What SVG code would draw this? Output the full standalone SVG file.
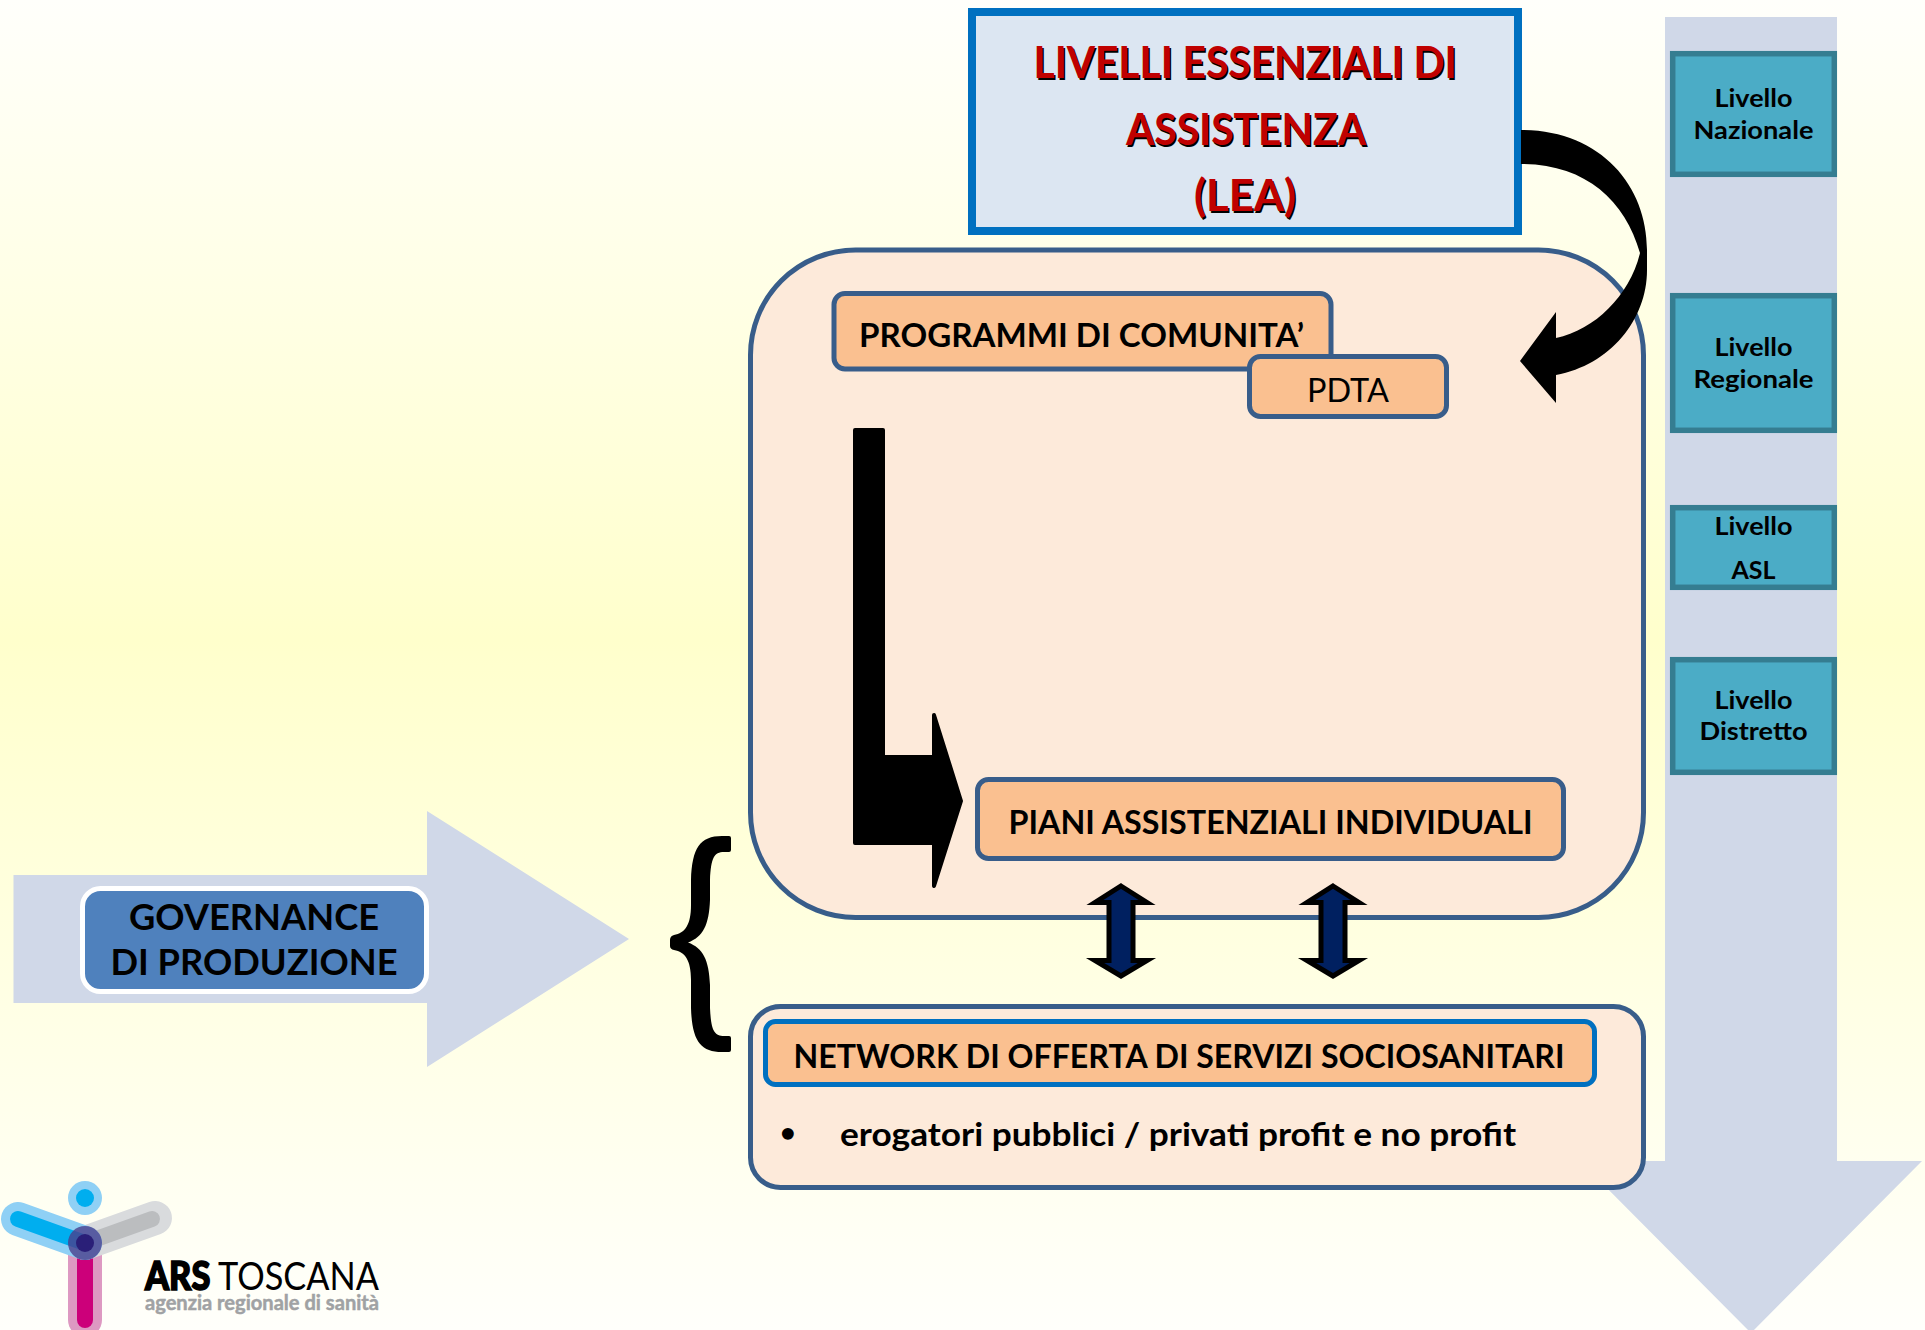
<svg xmlns="http://www.w3.org/2000/svg" width="1925" height="1330" viewBox="0 0 1925 1330">
<defs>
<linearGradient id="bg" x1="0" y1="0" x2="0" y2="1"><stop offset="0" stop-color="#fffffb"/><stop offset="0.48" stop-color="#ffffcc"/><stop offset="1" stop-color="#fffffb"/></linearGradient>
</defs>
<style>
text{font-family:"Lato","Carlito","Liberation Sans",sans-serif;fill:#000}
.b{font-weight:700}
.m{text-anchor:middle}
.lea{font-size:44px;font-weight:700;fill:#c00000;text-anchor:middle}
.leas{font-size:44px;font-weight:700;fill:#000;text-anchor:middle}
.lab{font-size:33px;font-weight:700}
.lvl{fill:#4bacc6;stroke:#357d91;stroke-width:5.5}
.lvt{font-size:25px;font-weight:700;text-anchor:middle}
.or{fill:#fac090;stroke:#385d8a;stroke-width:5}
.bgarrow{fill:#d0d8e8}
.dbl{fill:#002060;stroke:#000;stroke-width:5}
</style>
<rect width="1925" height="1330" fill="url(#bg)"/>
<path id="levels-arrow" class="bgarrow" d="M1665,17H1837V1161H1922L1751,1333L1580,1161H1665Z"/>
<path id="governance-arrow" class="bgarrow" d="M13.500,875H427V811L629,939L427,1067V1003H13.500Z"/>
<g id="lea">
<rect x="972" y="12" width="546" height="219" fill="#dce6f2" stroke="#0070c0" stroke-width="8"/>
<text class="leas" x="1246.5" y="79.5" textLength="423" lengthAdjust="spacingAndGlyphs">LIVELLI ESSENZIALI DI</text>
<text class="lea" x="1245" y="78" textLength="423" lengthAdjust="spacingAndGlyphs">LIVELLI ESSENZIALI DI</text>
<text class="leas" x="1247.500" y="146.500" textLength="240" lengthAdjust="spacingAndGlyphs">ASSISTENZA</text>
<text class="lea" x="1246" y="145" textLength="240" lengthAdjust="spacingAndGlyphs">ASSISTENZA</text>
<text class="leas" x="1246.500" y="212.500" textLength="102" lengthAdjust="spacingAndGlyphs">(LEA)</text>
<text class="lea" x="1245" y="211" textLength="102" lengthAdjust="spacingAndGlyphs">(LEA)</text>
</g>
<g id="main">
<rect x="750.5" y="250" width="893" height="667.5" rx="105" ry="105" fill="#fdeada" stroke="#385d8a" stroke-width="5"/>
</g>
<g id="programmi">
<rect class="or" x="834" y="293.5" width="497" height="75.5" rx="11"/>
<text class="lab" x="859" y="347" textLength="445" lengthAdjust="spacingAndGlyphs">PROGRAMMI DI COMUNITA’</text>
</g>
<g id="pdta">
<rect class="or" x="1249.5" y="356.5" width="197" height="60" rx="11"/>
<text class="m" x="1348" y="402" font-size="33" textLength="82" lengthAdjust="spacingAndGlyphs">PDTA</text>
</g>
<g id="piani">
<rect class="or" x="977.5" y="779.5" width="586" height="79" rx="11"/>
<text class="lab" x="1008.500" y="834" textLength="524" lengthAdjust="spacingAndGlyphs">PIANI ASSISTENZIALI INDIVIDUALI</text>
</g>
<g id="network">
<rect x="750.5" y="1006.5" width="893" height="181" rx="30" fill="#fdeada" stroke="#385d8a" stroke-width="5"/>
<rect x="765.5" y="1021.5" width="829" height="63" rx="10" fill="#fac090" stroke="#0070c0" stroke-width="5"/>
<text class="lab" x="793.500" y="1068" textLength="771" lengthAdjust="spacingAndGlyphs">NETWORK DI OFFERTA DI SERVIZI SOCIOSANITARI</text>
<text class="b" x="780" y="1142" font-size="27">•</text>
<text class="b" x="840" y="1146" font-size="33" textLength="676" lengthAdjust="spacingAndGlyphs">erogatori pubblici / privati profit e no profit</text>
</g>
<g id="governance">
<rect x="82.5" y="888.5" width="344" height="103" rx="18" fill="#4f81bd" stroke="#fff" stroke-width="5"/>
<text class="m b" x="254" y="930" font-size="36" textLength="250" lengthAdjust="spacingAndGlyphs">GOVERNANCE</text>
<text class="m b" x="254" y="975" font-size="36" textLength="287" lengthAdjust="spacingAndGlyphs">DI PRODUZIONE</text>
</g>
<g id="livello-nazionale">
<rect class="lvl" x="1672.7" y="53.7" width="161.6" height="120.6"/>
<text class="lvt" x="1753.500" y="107" textLength="78" lengthAdjust="spacingAndGlyphs">Livello</text><text class="lvt" x="1753.500" y="139" textLength="120" lengthAdjust="spacingAndGlyphs">Nazionale</text>
</g>
<g id="livello-regionale">
<rect class="lvl" x="1672.7" y="295.7" width="161.6" height="134.6"/>
<text class="lvt" x="1753.500" y="356" textLength="78" lengthAdjust="spacingAndGlyphs">Livello</text><text class="lvt" x="1753.500" y="388" textLength="120" lengthAdjust="spacingAndGlyphs">Regionale</text>
</g>
<g id="livello-asl">
<rect class="lvl" x="1672.7" y="507.7" width="161.6" height="79.6"/>
<text class="lvt" x="1753.500" y="535" textLength="78" lengthAdjust="spacingAndGlyphs">Livello</text><text class="lvt" x="1753.500" y="579" textLength="44" lengthAdjust="spacingAndGlyphs">ASL</text>
</g>
<g id="livello-distretto">
<rect class="lvl" x="1672.7" y="659.7" width="161.6" height="112.6"/>
<text class="lvt" x="1753.500" y="709" textLength="78" lengthAdjust="spacingAndGlyphs">Livello</text><text class="lvt" x="1753.500" y="740" textLength="108" lengthAdjust="spacingAndGlyphs">Distretto</text>
</g>
<g id="connectors">
<path d="M1521,130C1600,130 1647,185 1647,250V270C1647,320 1610,365 1556,375V403L1520,361L1556,312V338C1595,330 1630,295 1640,253C1625,200 1585,164 1521,164Z" fill="#000"/>
<path d="M855,430H883V757H934V715L961,801L934,886V843H855Z" fill="#000" stroke="#000" stroke-width="4" stroke-linejoin="round"/>
<path class="dbl" d="M1121,886L1147,902.500H1133V960.500H1147L1121,976L1095,960.500H1109V902.500H1095Z"/>
<path class="dbl" d="M1333,886L1359,902.500H1345V960.500H1359L1333,976L1307,960.500H1321V902.500H1307Z"/>
<path d="M731,838Q731,836 729,836H722C700,836 692,848 691,880V905C691,925 685,933 674,935Q670,936 670,940V946Q670,949 674,950C685,952 691,960 691,980V1008C692,1040 700,1052 722,1052H729Q731,1052 731,1050V1038Q731,1036 729,1036H724C714,1036 711,1030 710,1008V985C709,960 703,948 688,942.500C703,937 709,925 710,900V880C711,858 714,852 724,852H729Q731,852 731,850Z" fill="#000"/>
</g>
<g id="logo">
<path d="M85,1243V1320" stroke="#dd99c2" stroke-width="34" stroke-linecap="round" fill="none"/>
<path d="M85,1243V1320" stroke="#cc007a" stroke-width="16" stroke-linecap="round" fill="none"/>
<path d="M155,1218L85,1243" stroke="#d9dbdd" stroke-width="34" stroke-linecap="round" fill="none"/>
<path d="M152,1219L85,1243" stroke="#bbbdbf" stroke-width="16" stroke-linecap="round" fill="none"/>
<path d="M18,1219L85,1243" stroke="#8fd0f5" stroke-width="34" stroke-linecap="round" fill="none"/>
<path d="M18,1219L85,1243" stroke="#00aeef" stroke-width="16" stroke-linecap="round" fill="none"/>
<circle cx="85" cy="1243" r="17" fill="#4a3f8c" opacity="0.8"/>
<circle cx="85" cy="1243" r="9" fill="#2a1f78"/>
<circle cx="85" cy="1198" r="17" fill="#8fd0f5"/>
<circle cx="85" cy="1198" r="9" fill="#00aeef"/>
<text x="145" y="1290" font-size="39" textLength="234" lengthAdjust="spacingAndGlyphs"><tspan font-weight="900" stroke="#000" stroke-width="1.6">ARS</tspan> TOSCANA</text>
<text x="145" y="1310" font-size="21" font-weight="700" style="fill:#a0a2a4;stroke:#a0a2a4;stroke-width:.5" textLength="234" lengthAdjust="spacingAndGlyphs">agenzia regionale di sanità</text>
</g>
</svg>
